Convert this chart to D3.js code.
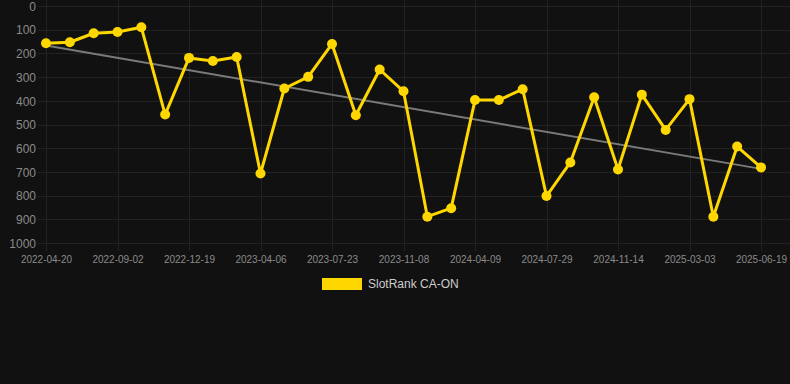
<!DOCTYPE html>
<html>
<head>
<meta charset="utf-8">
<script src="https://cdn.jsdelivr.net/npm/d3@7/dist/d3.min.js"></script>
<style>
  html, body { margin: 0; padding: 0; background: #111111; }
  svg { display: block; }
</style>
</head>
<body>
<svg id="chart" width="790" height="384"></svg>
<script>
// ---- Data ----
const seriesName = "SlotRank CA-ON";
const rankValues = [157, 153, 115, 110, 90, 458, 219, 232, 215, 707, 348, 299, 160, 461, 268,
                    360, 889, 853, 397, 397, 351, 802, 660, 385, 690, 374, 523, 393, 889, 593, 681];
const tickLabels = ["2022-04-20", "2022-09-02", "2022-12-19", "2023-04-06", "2023-07-23",
                    "2023-11-08", "2024-04-09", "2024-07-29", "2024-11-14", "2025-03-03", "2025-06-19"];
const tickEvery = 3;
const yTicks = [0, 100, 200, 300, 400, 500, 600, 700, 800, 900, 1000];

// ---- Layout ----
const W = 790, H = 384;
const area = { left: 46, right: 761, top: 6, bottom: 243 };
const gridLeft = 38, gridRight = 790, tickLen = 8;
const lineColor = "#FFD700";
const gridColor = "#222222";
const textColor = "#8a8a8a";
const font = "'Liberation Sans', Arial, Helvetica, sans-serif";

const svg = d3.select("#chart");

const idx = d3.range(rankValues.length);
const x = d3.scalePoint().domain(idx).range([area.left, area.right]).padding(0);
const y = d3.scaleLinear().domain([0, 1000]).range([area.top, area.bottom]);

// horizontal grid
svg.append("g").selectAll("line").data(yTicks).join("line")
  .attr("x1", gridLeft).attr("x2", gridRight)
  .attr("y1", d => Math.round(y(d)) + 0.5).attr("y2", d => Math.round(y(d)) + 0.5)
  .attr("stroke", gridColor).attr("stroke-width", 1);

// vertical grid at labeled ticks
const tickIdx = idx.filter(i => i % tickEvery === 0);
svg.append("g").selectAll("line").data(tickIdx).join("line")
  .attr("x1", d => Math.round(x(d)) + 0.5).attr("x2", d => Math.round(x(d)) + 0.5)
  .attr("y1", area.top - 6).attr("y2", area.bottom + tickLen)
  .attr("stroke", gridColor).attr("stroke-width", 1);

// y axis labels
const yAxis = d3.axisLeft(y).tickValues(yTicks).tickFormat(d3.format("d")).tickSize(0).tickPadding(0);
const gy = svg.append("g").attr("transform", `translate(36,0)`).call(yAxis);
gy.select(".domain").remove();
gy.selectAll("text").attr("fill", textColor).attr("font-size", "12px")
  .attr("font-family", font).attr("dy", "0.35em").attr("x", 0);

// x axis labels
const xAxis = d3.axisBottom(x).tickValues(tickIdx)
  .tickFormat(i => tickLabels[i / tickEvery]).tickSize(0).tickPadding(0);
const gx = svg.append("g").attr("transform", `translate(0,259)`).call(xAxis);
gx.select(".domain").remove();
gx.selectAll("text").attr("fill", textColor).attr("font-size", "10px")
  .attr("font-family", font).attr("dy", "0.35em").attr("y", 0);

// trend line (least squares)
const n = rankValues.length;
const mx = d3.mean(idx), my = d3.mean(rankValues);
const sxy = d3.sum(idx, i => (i - mx) * (rankValues[i] - my));
const sxx = d3.sum(idx, i => (i - mx) * (i - mx));
const slope = sxy / sxx, intercept = my - slope * mx;
svg.append("line")
  .attr("x1", x(0)).attr("y1", y(intercept))
  .attr("x2", x(n - 1)).attr("y2", y(intercept + slope * (n - 1)))
  .attr("stroke", "#7a7a7a").attr("stroke-width", 2);

// main line
const line = d3.line().x(i => x(i)).y(i => y(rankValues[i]));
svg.append("path").datum(idx)
  .attr("d", line).attr("fill", "none")
  .attr("stroke", lineColor).attr("stroke-width", 3).attr("stroke-linejoin", "round");

svg.append("g").selectAll("circle").data(idx).join("circle")
  .attr("cx", i => x(i)).attr("cy", i => y(rankValues[i])).attr("r", 5)
  .attr("fill", lineColor);

// legend
const lg = svg.append("g");
lg.append("rect").attr("x", 322).attr("y", 278).attr("width", 40).attr("height", 12)
  .attr("fill", lineColor);
lg.append("text").attr("x", 368).attr("y", 284).attr("dy", "0.35em")
  .attr("fill", "#cccccc").attr("font-size", "12px").attr("font-family", font)
  .text(seriesName);
</script>
</body>
</html>
